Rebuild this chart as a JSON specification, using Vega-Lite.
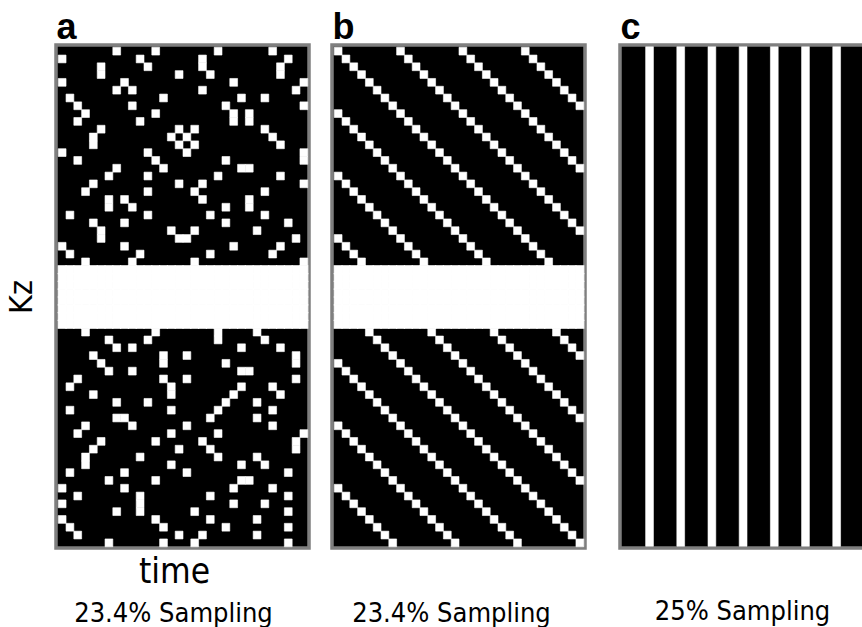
{
"$schema": "https://vega.github.io/schema/vega-lite/v6.json",
"padding": {"left": 3, "top": 7, "right": 0, "bottom": 0},
"background": "white",
"datasets": {
"center": [
{"k":28,"t":0},{"k":28,"t":1},{"k":28,"t":2},{"k":28,"t":3},{"k":28,"t":4},{"k":28,"t":5},{"k":28,"t":6},{"k":28,"t":7},{"k":28,"t":8},{"k":28,"t":9},{"k":28,"t":10},{"k":28,"t":11},{"k":28,"t":12},{"k":28,"t":13},{"k":28,"t":14},{"k":28,"t":15},{"k":28,"t":16},{"k":28,"t":17},{"k":28,"t":18},{"k":28,"t":19},{"k":28,"t":20},{"k":28,"t":21},{"k":28,"t":22},{"k":28,"t":23},{"k":28,"t":24},{"k":28,"t":25},{"k":28,"t":26},{"k":28,"t":27},{"k":28,"t":28},{"k":28,"t":29},{"k":28,"t":30},{"k":28,"t":31},
{"k":29,"t":0},{"k":29,"t":1},{"k":29,"t":2},{"k":29,"t":3},{"k":29,"t":4},{"k":29,"t":5},{"k":29,"t":6},{"k":29,"t":7},{"k":29,"t":8},{"k":29,"t":9},{"k":29,"t":10},{"k":29,"t":11},{"k":29,"t":12},{"k":29,"t":13},{"k":29,"t":14},{"k":29,"t":15},{"k":29,"t":16},{"k":29,"t":17},{"k":29,"t":18},{"k":29,"t":19},{"k":29,"t":20},{"k":29,"t":21},{"k":29,"t":22},{"k":29,"t":23},{"k":29,"t":24},{"k":29,"t":25},{"k":29,"t":26},{"k":29,"t":27},{"k":29,"t":28},{"k":29,"t":29},{"k":29,"t":30},{"k":29,"t":31},
{"k":30,"t":0},{"k":30,"t":1},{"k":30,"t":2},{"k":30,"t":3},{"k":30,"t":4},{"k":30,"t":5},{"k":30,"t":6},{"k":30,"t":7},{"k":30,"t":8},{"k":30,"t":9},{"k":30,"t":10},{"k":30,"t":11},{"k":30,"t":12},{"k":30,"t":13},{"k":30,"t":14},{"k":30,"t":15},{"k":30,"t":16},{"k":30,"t":17},{"k":30,"t":18},{"k":30,"t":19},{"k":30,"t":20},{"k":30,"t":21},{"k":30,"t":22},{"k":30,"t":23},{"k":30,"t":24},{"k":30,"t":25},{"k":30,"t":26},{"k":30,"t":27},{"k":30,"t":28},{"k":30,"t":29},{"k":30,"t":30},{"k":30,"t":31},
{"k":31,"t":0},{"k":31,"t":1},{"k":31,"t":2},{"k":31,"t":3},{"k":31,"t":4},{"k":31,"t":5},{"k":31,"t":6},{"k":31,"t":7},{"k":31,"t":8},{"k":31,"t":9},{"k":31,"t":10},{"k":31,"t":11},{"k":31,"t":12},{"k":31,"t":13},{"k":31,"t":14},{"k":31,"t":15},{"k":31,"t":16},{"k":31,"t":17},{"k":31,"t":18},{"k":31,"t":19},{"k":31,"t":20},{"k":31,"t":21},{"k":31,"t":22},{"k":31,"t":23},{"k":31,"t":24},{"k":31,"t":25},{"k":31,"t":26},{"k":31,"t":27},{"k":31,"t":28},{"k":31,"t":29},{"k":31,"t":30},{"k":31,"t":31},
{"k":32,"t":0},{"k":32,"t":1},{"k":32,"t":2},{"k":32,"t":3},{"k":32,"t":4},{"k":32,"t":5},{"k":32,"t":6},{"k":32,"t":7},{"k":32,"t":8},{"k":32,"t":9},{"k":32,"t":10},{"k":32,"t":11},{"k":32,"t":12},{"k":32,"t":13},{"k":32,"t":14},{"k":32,"t":15},{"k":32,"t":16},{"k":32,"t":17},{"k":32,"t":18},{"k":32,"t":19},{"k":32,"t":20},{"k":32,"t":21},{"k":32,"t":22},{"k":32,"t":23},{"k":32,"t":24},{"k":32,"t":25},{"k":32,"t":26},{"k":32,"t":27},{"k":32,"t":28},{"k":32,"t":29},{"k":32,"t":30},{"k":32,"t":31},
{"k":33,"t":0},{"k":33,"t":1},{"k":33,"t":2},{"k":33,"t":3},{"k":33,"t":4},{"k":33,"t":5},{"k":33,"t":6},{"k":33,"t":7},{"k":33,"t":8},{"k":33,"t":9},{"k":33,"t":10},{"k":33,"t":11},{"k":33,"t":12},{"k":33,"t":13},{"k":33,"t":14},{"k":33,"t":15},{"k":33,"t":16},{"k":33,"t":17},{"k":33,"t":18},{"k":33,"t":19},{"k":33,"t":20},{"k":33,"t":21},{"k":33,"t":22},{"k":33,"t":23},{"k":33,"t":24},{"k":33,"t":25},{"k":33,"t":26},{"k":33,"t":27},{"k":33,"t":28},{"k":33,"t":29},{"k":33,"t":30},{"k":33,"t":31},
{"k":34,"t":0},{"k":34,"t":1},{"k":34,"t":2},{"k":34,"t":3},{"k":34,"t":4},{"k":34,"t":5},{"k":34,"t":6},{"k":34,"t":7},{"k":34,"t":8},{"k":34,"t":9},{"k":34,"t":10},{"k":34,"t":11},{"k":34,"t":12},{"k":34,"t":13},{"k":34,"t":14},{"k":34,"t":15},{"k":34,"t":16},{"k":34,"t":17},{"k":34,"t":18},{"k":34,"t":19},{"k":34,"t":20},{"k":34,"t":21},{"k":34,"t":22},{"k":34,"t":23},{"k":34,"t":24},{"k":34,"t":25},{"k":34,"t":26},{"k":34,"t":27},{"k":34,"t":28},{"k":34,"t":29},{"k":34,"t":30},{"k":34,"t":31},
{"k":35,"t":0},{"k":35,"t":1},{"k":35,"t":2},{"k":35,"t":3},{"k":35,"t":4},{"k":35,"t":5},{"k":35,"t":6},{"k":35,"t":7},{"k":35,"t":8},{"k":35,"t":9},{"k":35,"t":10},{"k":35,"t":11},{"k":35,"t":12},{"k":35,"t":13},{"k":35,"t":14},{"k":35,"t":15},{"k":35,"t":16},{"k":35,"t":17},{"k":35,"t":18},{"k":35,"t":19},{"k":35,"t":20},{"k":35,"t":21},{"k":35,"t":22},{"k":35,"t":23},{"k":35,"t":24},{"k":35,"t":25},{"k":35,"t":26},{"k":35,"t":27},{"k":35,"t":28},{"k":35,"t":29},{"k":35,"t":30},{"k":35,"t":31}
],
"a": [
{"k":0,"t":7},{"k":0,"t":12},{"k":0,"t":20},{"k":0,"t":27},
{"k":1,"t":0},{"k":1,"t":10},{"k":1,"t":18},{"k":1,"t":29},
{"k":2,"t":5},{"k":2,"t":11},{"k":2,"t":18},{"k":2,"t":28},
{"k":3,"t":5},{"k":3,"t":15},{"k":3,"t":19},{"k":3,"t":28},
{"k":4,"t":0},{"k":4,"t":8},{"k":4,"t":22},{"k":4,"t":31},
{"k":5,"t":7},{"k":5,"t":9},{"k":5,"t":18},{"k":5,"t":30},
{"k":6,"t":1},{"k":6,"t":13},{"k":6,"t":23},{"k":6,"t":26},
{"k":7,"t":2},{"k":7,"t":9},{"k":7,"t":21},{"k":7,"t":31},
{"k":8,"t":3},{"k":8,"t":12},{"k":8,"t":22},{"k":8,"t":24},
{"k":9,"t":2},{"k":9,"t":10},{"k":9,"t":22},{"k":9,"t":24},
{"k":10,"t":5},{"k":10,"t":15},{"k":10,"t":17},{"k":10,"t":26},
{"k":11,"t":4},{"k":11,"t":14},{"k":11,"t":16},{"k":11,"t":27},
{"k":12,"t":4},{"k":12,"t":15},{"k":12,"t":17},{"k":12,"t":28},
{"k":13,"t":0},{"k":13,"t":11},{"k":13,"t":16},{"k":13,"t":31},
{"k":14,"t":2},{"k":14,"t":12},{"k":14,"t":21},{"k":14,"t":31},
{"k":15,"t":7},{"k":15,"t":13},{"k":15,"t":23},{"k":15,"t":24},
{"k":16,"t":6},{"k":16,"t":11},{"k":16,"t":20},{"k":16,"t":28},
{"k":17,"t":4},{"k":17,"t":15},{"k":17,"t":18},{"k":17,"t":31},
{"k":18,"t":3},{"k":18,"t":11},{"k":18,"t":17},{"k":18,"t":26},
{"k":19,"t":6},{"k":19,"t":8},{"k":19,"t":18},{"k":19,"t":24},
{"k":20,"t":6},{"k":20,"t":9},{"k":20,"t":21},{"k":20,"t":24},
{"k":21,"t":1},{"k":21,"t":11},{"k":21,"t":19},{"k":21,"t":26},
{"k":22,"t":4},{"k":22,"t":8},{"k":22,"t":21},{"k":22,"t":29},
{"k":23,"t":5},{"k":23,"t":14},{"k":23,"t":17},{"k":23,"t":25},
{"k":24,"t":5},{"k":24,"t":15},{"k":24,"t":16},{"k":24,"t":30},
{"k":25,"t":0},{"k":25,"t":8},{"k":25,"t":22},{"k":25,"t":28},
{"k":26,"t":1},{"k":26,"t":10},{"k":26,"t":19},{"k":26,"t":27},
{"k":27,"t":3},{"k":27,"t":9},{"k":27,"t":17},{"k":27,"t":31},
{"k":36,"t":3},{"k":36,"t":12},{"k":36,"t":20},{"k":36,"t":25},
{"k":37,"t":6},{"k":37,"t":11},{"k":37,"t":20},{"k":37,"t":26},
{"k":38,"t":7},{"k":38,"t":9},{"k":38,"t":23},{"k":38,"t":28},
{"k":39,"t":4},{"k":39,"t":13},{"k":39,"t":16},{"k":39,"t":30},
{"k":40,"t":5},{"k":40,"t":13},{"k":40,"t":21},{"k":40,"t":30},
{"k":41,"t":6},{"k":41,"t":9},{"k":41,"t":23},{"k":41,"t":24},
{"k":42,"t":2},{"k":42,"t":13},{"k":42,"t":16},{"k":42,"t":30},
{"k":43,"t":1},{"k":43,"t":14},{"k":43,"t":23},{"k":43,"t":27},
{"k":44,"t":4},{"k":44,"t":14},{"k":44,"t":22},{"k":44,"t":28},
{"k":45,"t":7},{"k":45,"t":11},{"k":45,"t":21},{"k":45,"t":25},
{"k":46,"t":1},{"k":46,"t":14},{"k":46,"t":20},{"k":46,"t":27},
{"k":47,"t":7},{"k":47,"t":8},{"k":47,"t":19},{"k":47,"t":25},
{"k":48,"t":3},{"k":48,"t":9},{"k":48,"t":16},{"k":48,"t":27},
{"k":49,"t":2},{"k":49,"t":14},{"k":49,"t":20},{"k":49,"t":31},
{"k":50,"t":5},{"k":50,"t":12},{"k":50,"t":18},{"k":50,"t":30},
{"k":51,"t":4},{"k":51,"t":15},{"k":51,"t":19},{"k":51,"t":30},
{"k":52,"t":3},{"k":52,"t":10},{"k":52,"t":20},{"k":52,"t":25},
{"k":53,"t":3},{"k":53,"t":14},{"k":53,"t":23},{"k":53,"t":26},
{"k":54,"t":1},{"k":54,"t":8},{"k":54,"t":16},{"k":54,"t":29},
{"k":55,"t":6},{"k":55,"t":12},{"k":55,"t":23},{"k":55,"t":24},
{"k":56,"t":0},{"k":56,"t":8},{"k":56,"t":22},{"k":56,"t":27},
{"k":57,"t":2},{"k":57,"t":10},{"k":57,"t":19},{"k":57,"t":29},
{"k":58,"t":0},{"k":58,"t":10},{"k":58,"t":22},{"k":58,"t":26},
{"k":59,"t":7},{"k":59,"t":10},{"k":59,"t":17},{"k":59,"t":29},
{"k":60,"t":0},{"k":60,"t":12},{"k":60,"t":19},{"k":60,"t":25},
{"k":61,"t":1},{"k":61,"t":13},{"k":61,"t":21},{"k":61,"t":29},
{"k":62,"t":2},{"k":62,"t":15},{"k":62,"t":18},{"k":62,"t":25},
{"k":63,"t":6},{"k":63,"t":13},{"k":63,"t":17},{"k":63,"t":29}
],
"b": [
{"k":0,"t":0},{"k":0,"t":8},{"k":0,"t":16},{"k":0,"t":24},
{"k":1,"t":1},{"k":1,"t":9},{"k":1,"t":17},{"k":1,"t":25},
{"k":2,"t":2},{"k":2,"t":10},{"k":2,"t":18},{"k":2,"t":26},
{"k":3,"t":3},{"k":3,"t":11},{"k":3,"t":19},{"k":3,"t":27},
{"k":4,"t":4},{"k":4,"t":12},{"k":4,"t":20},{"k":4,"t":28},
{"k":5,"t":5},{"k":5,"t":13},{"k":5,"t":21},{"k":5,"t":29},
{"k":6,"t":6},{"k":6,"t":14},{"k":6,"t":22},{"k":6,"t":30},
{"k":7,"t":7},{"k":7,"t":15},{"k":7,"t":23},{"k":7,"t":31},
{"k":8,"t":0},{"k":8,"t":8},{"k":8,"t":16},{"k":8,"t":24},
{"k":9,"t":1},{"k":9,"t":9},{"k":9,"t":17},{"k":9,"t":25},
{"k":10,"t":2},{"k":10,"t":10},{"k":10,"t":18},{"k":10,"t":26},
{"k":11,"t":3},{"k":11,"t":11},{"k":11,"t":19},{"k":11,"t":27},
{"k":12,"t":4},{"k":12,"t":12},{"k":12,"t":20},{"k":12,"t":28},
{"k":13,"t":5},{"k":13,"t":13},{"k":13,"t":21},{"k":13,"t":29},
{"k":14,"t":6},{"k":14,"t":14},{"k":14,"t":22},{"k":14,"t":30},
{"k":15,"t":7},{"k":15,"t":15},{"k":15,"t":23},{"k":15,"t":31},
{"k":16,"t":0},{"k":16,"t":8},{"k":16,"t":16},{"k":16,"t":24},
{"k":17,"t":1},{"k":17,"t":9},{"k":17,"t":17},{"k":17,"t":25},
{"k":18,"t":2},{"k":18,"t":10},{"k":18,"t":18},{"k":18,"t":26},
{"k":19,"t":3},{"k":19,"t":11},{"k":19,"t":19},{"k":19,"t":27},
{"k":20,"t":4},{"k":20,"t":12},{"k":20,"t":20},{"k":20,"t":28},
{"k":21,"t":5},{"k":21,"t":13},{"k":21,"t":21},{"k":21,"t":29},
{"k":22,"t":6},{"k":22,"t":14},{"k":22,"t":22},{"k":22,"t":30},
{"k":23,"t":7},{"k":23,"t":15},{"k":23,"t":23},{"k":23,"t":31},
{"k":24,"t":0},{"k":24,"t":8},{"k":24,"t":16},{"k":24,"t":24},
{"k":25,"t":1},{"k":25,"t":9},{"k":25,"t":17},{"k":25,"t":25},
{"k":26,"t":2},{"k":26,"t":10},{"k":26,"t":18},{"k":26,"t":26},
{"k":27,"t":3},{"k":27,"t":11},{"k":27,"t":19},{"k":27,"t":27},
{"k":36,"t":4},{"k":36,"t":12},{"k":36,"t":20},{"k":36,"t":28},
{"k":37,"t":5},{"k":37,"t":13},{"k":37,"t":21},{"k":37,"t":29},
{"k":38,"t":6},{"k":38,"t":14},{"k":38,"t":22},{"k":38,"t":30},
{"k":39,"t":7},{"k":39,"t":15},{"k":39,"t":23},{"k":39,"t":31},
{"k":40,"t":0},{"k":40,"t":8},{"k":40,"t":16},{"k":40,"t":24},
{"k":41,"t":1},{"k":41,"t":9},{"k":41,"t":17},{"k":41,"t":25},
{"k":42,"t":2},{"k":42,"t":10},{"k":42,"t":18},{"k":42,"t":26},
{"k":43,"t":3},{"k":43,"t":11},{"k":43,"t":19},{"k":43,"t":27},
{"k":44,"t":4},{"k":44,"t":12},{"k":44,"t":20},{"k":44,"t":28},
{"k":45,"t":5},{"k":45,"t":13},{"k":45,"t":21},{"k":45,"t":29},
{"k":46,"t":6},{"k":46,"t":14},{"k":46,"t":22},{"k":46,"t":30},
{"k":47,"t":7},{"k":47,"t":15},{"k":47,"t":23},{"k":47,"t":31},
{"k":48,"t":0},{"k":48,"t":8},{"k":48,"t":16},{"k":48,"t":24},
{"k":49,"t":1},{"k":49,"t":9},{"k":49,"t":17},{"k":49,"t":25},
{"k":50,"t":2},{"k":50,"t":10},{"k":50,"t":18},{"k":50,"t":26},
{"k":51,"t":3},{"k":51,"t":11},{"k":51,"t":19},{"k":51,"t":27},
{"k":52,"t":4},{"k":52,"t":12},{"k":52,"t":20},{"k":52,"t":28},
{"k":53,"t":5},{"k":53,"t":13},{"k":53,"t":21},{"k":53,"t":29},
{"k":54,"t":6},{"k":54,"t":14},{"k":54,"t":22},{"k":54,"t":30},
{"k":55,"t":7},{"k":55,"t":15},{"k":55,"t":23},{"k":55,"t":31},
{"k":56,"t":0},{"k":56,"t":8},{"k":56,"t":16},{"k":56,"t":24},
{"k":57,"t":1},{"k":57,"t":9},{"k":57,"t":17},{"k":57,"t":25},
{"k":58,"t":2},{"k":58,"t":10},{"k":58,"t":18},{"k":58,"t":26},
{"k":59,"t":3},{"k":59,"t":11},{"k":59,"t":19},{"k":59,"t":27},
{"k":60,"t":4},{"k":60,"t":12},{"k":60,"t":20},{"k":60,"t":28},
{"k":61,"t":5},{"k":61,"t":13},{"k":61,"t":21},{"k":61,"t":29},
{"k":62,"t":6},{"k":62,"t":14},{"k":62,"t":22},{"k":62,"t":30},
{"k":63,"t":7},{"k":63,"t":15},{"k":63,"t":23},{"k":63,"t":31}
],
"c": [{"t":3},{"t":7},{"t":11},{"t":15},{"t":19},{"t":23},{"t":27},{"t":31}]
},
"hconcat": [
{"hconcat": [
{
"width": 253, "height": 503,
"title": {"text": "23.4% Sampling", "offset": 12, "dx": -9},
"layer": [
{"data": {"name": "center"},
"mark": {"type": "rect", "fill": "white", "stroke": "white", "strokeWidth": 1.2},
"encoding": {
"x": {"field": "t", "type": "quantitative", "bin": {"step": 1, "extent": [0, 32]}, "scale": {"domain": [-0.224, 32.224], "nice": false, "zero": false}, "axis": {"orient": "bottom", "title": "time", "titleFontSize": 35, "titlePadding": 6, "titleX": 118}},
"y": {"field": "k", "type": "quantitative", "bin": {"step": 1, "extent": [0, 64]}, "scale": {"domain": [-0.224, 64.224], "nice": false, "zero": false, "reverse": true}, "axis": {"title": "Kz", "titleFontSize": 32, "titlePadding": 18}}
}},
{"data": {"name": "a"},
"mark": {"type": "rect", "fill": "white", "stroke": "white", "strokeWidth": 0.6},
"encoding": {
"x": {"field": "t", "type": "quantitative", "bin": {"step": 1, "extent": [0, 32]}, "scale": {"domain": [-0.224, 32.224], "nice": false, "zero": false}, "axis": {"orient": "top", "title": "a"}},
"y": {"field": "k", "type": "quantitative", "bin": {"step": 1, "extent": [0, 64]}, "scale": {"domain": [-0.224, 64.224], "nice": false, "zero": false, "reverse": true}, "axis": {"title": "Kz", "titleFontSize": 32, "titlePadding": 18}}
}}
],
"resolve": {"scale": {"x": "independent"}}
},
{
"width": 253, "height": 503,
"title": {"text": "23.4% Sampling", "offset": 53, "dx": -7},
"encoding": {
"x": {"field": "t", "type": "quantitative", "bin": {"step": 1, "extent": [0, 32]}, "scale": {"domain": [-0.224, 32.224], "nice": false, "zero": false}, "axis": {"orient": "top", "title": "b"}},
"y": {"field": "k", "type": "quantitative", "bin": {"step": 1, "extent": [0, 64]}, "scale": {"domain": [-0.224, 64.224], "nice": false, "zero": false, "reverse": true}, "axis": null}
},
"layer": [
{"data": {"name": "center"}, "mark": {"type": "rect", "fill": "white", "stroke": "white", "strokeWidth": 1.2}},
{"data": {"name": "b"}, "mark": {"type": "rect", "fill": "white", "stroke": "white", "strokeWidth": 0.6}}
]
}
], "spacing": 19},
{
"width": 253, "height": 503,
"title": {"text": "25% Sampling", "offset": 51, "dx": -4},
"data": {"name": "c"},
"mark": {"type": "rect", "fill": "white", "stroke": "white", "strokeWidth": 0.6},
"encoding": {
"x": {"field": "t", "type": "quantitative", "bin": {"step": 1, "extent": [0, 32]}, "scale": {"domain": [-0.224, 32.224], "nice": false, "zero": false}, "axis": {"orient": "top", "title": "c"}},
"y": {"datum": 0, "type": "quantitative", "scale": {"domain": [-0.224, 64.224], "nice": false, "zero": false}, "axis": null},
"y2": {"datum": 64}
}
}
],
"spacing": 31,
"config": {
"view": {"stroke": "#7f7f7f", "strokeWidth": 3.5, "fill": "black"},
"axis": {"labels": false, "ticks": false, "domain": false, "grid": false, "titleFont": "DejaVu Sans Condensed, DejaVu Sans", "titleFontWeight": "normal", "titleColor": "black", "titleFontSize": 32},
"axisTop": {"titleFont": "Liberation Sans", "titleFontWeight": "bold", "titleFontSize": 36, "titleAnchor": "start", "titleAlign": "left", "titlePadding": -1},
"title": {"orient": "bottom", "anchor": "middle", "frame": "group", "fontSize": 27, "font": "DejaVu Sans Condensed, DejaVu Sans", "fontWeight": "normal", "color": "black"}
}
}
